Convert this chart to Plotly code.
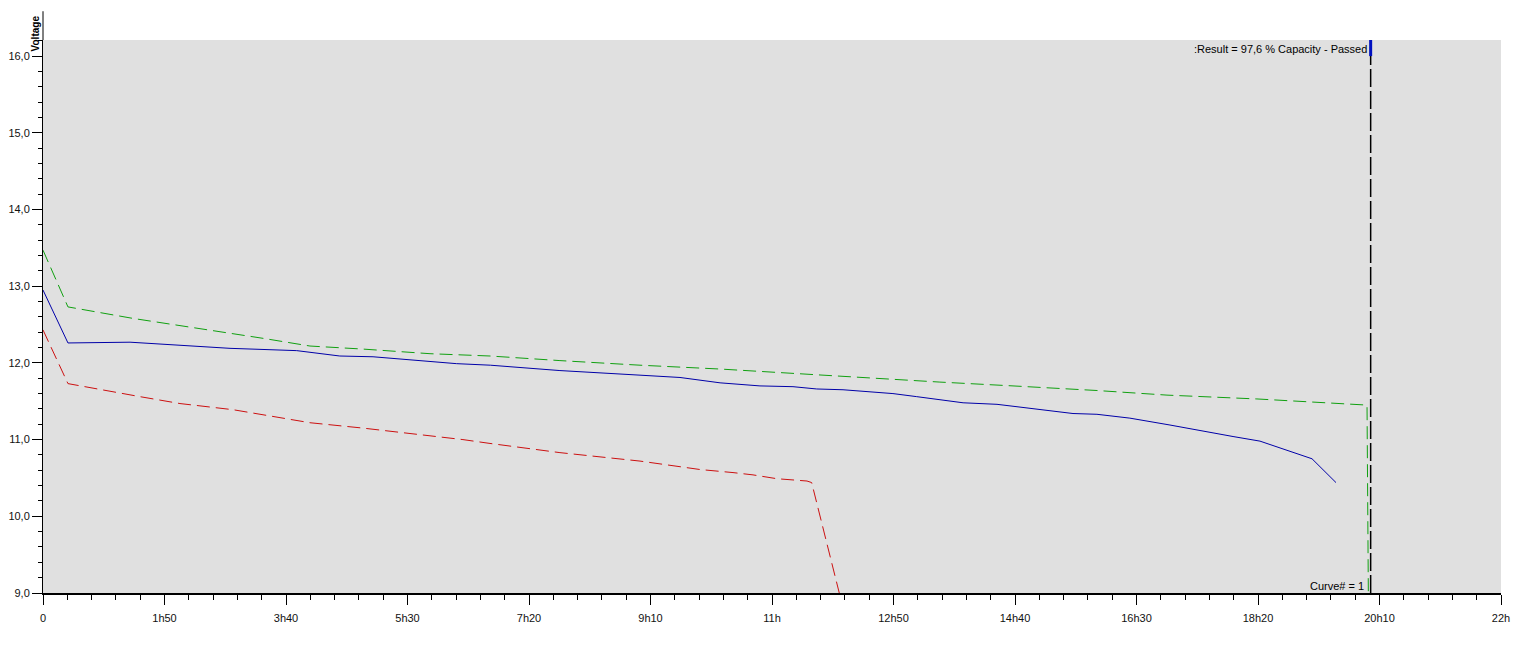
import plotly.graph_objects as go

# ---- data (x in minutes, y in volts) ----
blue_t = [0, 22.6, 78.8, 142.1, 169.3, 229.7, 268.7, 298.8, 332.2, 374.5, 405, 468, 540.5, 576.7,
          613, 649.1, 679, 700.5, 724.3, 754.8, 769.5, 791, 812, 833, 863.7, 905.4, 932.5, 954.2,
          984, 1020.3, 1056.5, 1077.4, 1101.8, 1126.3, 1148.9, 1170.6]
blue_v = [12.95, 12.26, 12.27, 12.22, 12.19, 12.16, 12.09, 12.08, 12.04, 11.99, 11.97, 11.90, 11.84, 11.81,
          11.74, 11.70, 11.69, 11.66, 11.65, 11.61, 11.60, 11.56, 11.52, 11.48, 11.46, 11.39, 11.34, 11.33,
          11.28, 11.19, 11.09, 11.04, 10.98, 10.86, 10.75, 10.44]

green_t = [0, 22.6, 81.5, 142, 169.3, 199.4, 241.7, 290, 350.4, 404.7, 468, 540.5, 613, 703.5, 812,
           878.2, 954.2, 1017.6, 1099, 1198.7, 1199.9]
green_v = [13.47, 12.73, 12.58, 12.45, 12.39, 12.32, 12.22, 12.18, 12.12, 12.09, 12.03, 11.97, 11.92,
           11.84, 11.75, 11.70, 11.64, 11.58, 11.53, 11.45, 9.0]

red_t = [0, 22.6, 87.8, 124, 172, 199.2, 241.7, 289.7, 332.3, 380.2, 404.7, 468, 540.5, 594.8, 624.7,
         642.8, 664.5, 691.7, 695.9, 720.9]
red_v = [12.43, 11.73, 11.56, 11.47, 11.39, 11.32, 11.22, 11.15, 11.08, 11.00, 10.95, 10.83, 10.72,
         10.61, 10.57, 10.54, 10.49, 10.46, 10.44, 9.0]

result_time = 1202
result_text = ":Result = 97,6 % Capacity - Passed"
curve_text = "Curve# = 1"

x_tickvals = [0, 110, 220, 330, 440, 550, 660, 770, 880, 990, 1100, 1210, 1320]
x_ticktext = ["0", "1h50", "3h40", "5h30", "7h20", "9h10", "11h", "12h50", "14h40", "16h30",
              "18h20", "20h10", "22h"]
y_tickvals = [9, 10, 11, 12, 13, 14, 15, 16]
y_ticktext = ["9,0", "10,0", "11,0", "12,0", "13,0", "14,0", "15,0", "16,0"]

Y_MIN, Y_MAX = 9.0, 16.21

fig = go.Figure()
fig.add_trace(go.Scatter(x=green_t, y=green_v, mode="lines",
                         line=dict(color="#10a010", width=1, dash="13px,6px"), showlegend=False))
fig.add_trace(go.Scatter(x=red_t, y=red_v, mode="lines",
                         line=dict(color="#cc1010", width=1, dash="13px,6px"), showlegend=False))
fig.add_trace(go.Scatter(x=blue_t, y=blue_v, mode="lines",
                         line=dict(color="#0000a8", width=1), showlegend=False))

# result vertical marker line
fig.add_shape(type="line", xref="x", yref="y", x0=result_time, x1=result_time, y0=Y_MIN, y1=Y_MAX,
              line=dict(color="black", width=1.5, dash="18px,4px"))
fig.add_shape(type="line", xref="x", yref="y", x0=result_time, x1=result_time, y0=16.0, y1=Y_MAX,
              line=dict(color="#0010c0", width=3))
# y axis line extension above plot
fig.add_shape(type="line", xref="paper", yref="paper", x0=0, x1=0, y0=1, y1=1.052,
              line=dict(color="black", width=1))

fig.add_annotation(x=result_time, y=Y_MAX, xref="x", yref="y", text=result_text, showarrow=False,
                   xanchor="right", yanchor="top", xshift=-2, yshift=-1,
                   font=dict(family="Liberation Sans, Arial", size=11, color="#000"))
fig.add_annotation(x=result_time, y=Y_MIN, xref="x", yref="y", text=curve_text, showarrow=False,
                   xanchor="right", yanchor="bottom", xshift=-5, yshift=-1,
                   font=dict(family="Liberation Sans, Arial", size=11, color="#000"))
fig.add_annotation(x=-0.0045, y=1.0127, xref="paper", yref="paper", text="<b>Voltage</b>",
                   showarrow=False, textangle=-90, xanchor="center", yanchor="middle",
                   font=dict(family="Liberation Sans, Arial", size=10, color="#000"))

fig.update_layout(
    width=1524, height=640,
    margin=dict(l=35, r=31, t=32, b=55, autoexpand=False),
    paper_bgcolor="white", plot_bgcolor="#e0e0e0",
    font=dict(family="Liberation Sans, Arial", size=11, color="#111"),
    xaxis=dict(range=[0, 1320], tickmode="array", tickvals=x_tickvals, ticktext=x_ticktext,
               automargin=False, ticklabelstandoff=4,
               showgrid=False, zeroline=False, showline=True, linecolor="black", linewidth=2,
               ticks="outside", ticklen=10, tickwidth=1, tickcolor="black",
               minor=dict(tickmode="linear", tick0=0, dtick=22, ticks="outside", ticklen=5,
                          tickcolor="black", tickwidth=1, showgrid=False),
               tickfont=dict(size=11, color="#111")),
    yaxis=dict(range=[Y_MIN, Y_MAX], tickmode="array", tickvals=y_tickvals, ticktext=y_ticktext,
               automargin=False,
               showgrid=False, zeroline=False, showline=True, linecolor="black", linewidth=1,
               ticks="outside", ticklen=10, tickwidth=1, tickcolor="black",
               minor=dict(tickmode="linear", tick0=9, dtick=0.2, ticks="outside", ticklen=4,
                          tickcolor="black", tickwidth=1, showgrid=False),
               tickfont=dict(size=11, color="#111")),
)

fig.write_html("out.html")
